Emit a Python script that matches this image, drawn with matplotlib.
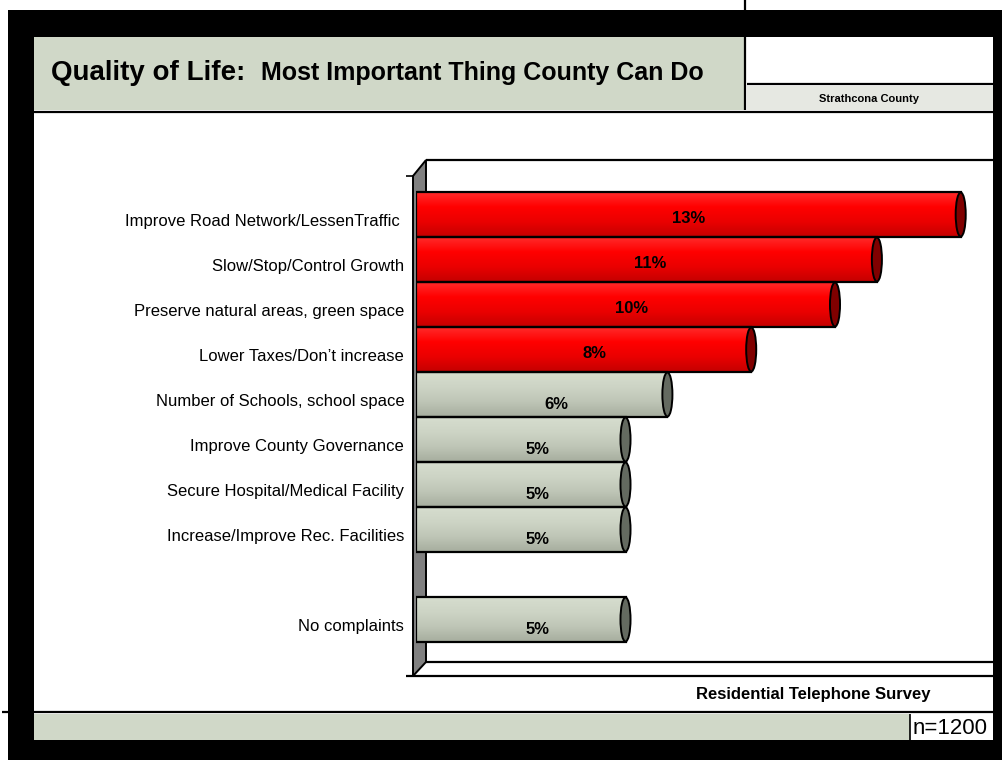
import matplotlib.pyplot as plt
import numpy as np
from matplotlib.patches import Rectangle, Polygon, Ellipse, Arc
from matplotlib.colors import LinearSegmentedColormap

plt.rcParams['font.family'] = ['Liberation Sans', 'DejaVu Sans']

# Survey answers, top to bottom (slot 8 is left empty in the chart)
categories = [
    'Improve Road Network/LessenTraffic ',
    'Slow/Stop/Control Growth',
    'Preserve natural areas, green space',
    'Lower Taxes/Don\u2019t increase',
    'Number of Schools, school space',
    'Improve County Governance',
    'Secure Hospital/Medical Facility',
    'Increase/Improve Rec. Facilities',
    'No complaints',
]
slots = [0, 1, 2, 3, 4, 5, 6, 7, 9]
values = [13, 11, 10, 8, 6, 5, 5, 5, 5]
is_top = [True, True, True, True, False, False, False, False, False]

title_main = 'Quality of Life:'
title_sub = 'Most Important Thing County Can Do'
client = 'Strathcona County'
survey = 'Residential Telephone Survey'
sample = 'n=1200'

W, H = 1003, 762
SAGE = '#d0d8c8'

red_cmap = LinearSegmentedColormap.from_list(
    'redcyl', ['#ff2a2a', '#ff0000', '#ea0000', '#c40000'])
grey_cmap = LinearSegmentedColormap.from_list(
    'greycyl', ['#d6ddce', '#cdd4c5', '#bec5b6', '#a6ad9e'])

fig = plt.figure(figsize=(W / 100, H / 100), dpi=100)

# page decoration in pixel coordinates
bg = fig.add_axes([0, 0, 1, 1])
bg.set_xlim(0, W)
bg.set_ylim(H, 0)
bg.axis('off')


def box(x0, y0, x1, y1, fc, ec='none', lw=0, z=1):
    bg.add_patch(Rectangle((x0, y0), x1 - x0, y1 - y0, facecolor=fc,
                           edgecolor=ec, linewidth=lw, zorder=z))


def line(xs, ys, lw=1.6, z=3):
    bg.plot(xs, ys, color='black', lw=lw, zorder=z, solid_capstyle='butt')


box(8, 10, W, 760, 'black')
box(34, 37, 993, 740, 'white')
box(34, 37, 745, 110, SAGE)
box(747, 86, 993, 110, '#e6e8e2')
line([745, 745], [0, 110])
line([747, 993], [84, 84])
line([34, 993], [112, 112])
box(34, 714, 993, 740, SAGE)
box(910, 714, 993, 740, 'white')
line([910, 910], [714, 740], lw=1.2)
line([2, 993], [712, 712])

bg.text(51, 80, title_main, fontsize=20, fontweight='bold', va='baseline')
bg.text(261, 80, title_sub, fontsize=18, fontweight='bold', va='baseline')
bg.text(869, 99, client, fontsize=8, fontweight='bold', ha='center',
        va='center')
bg.text(931, 695, survey, fontsize=12, fontweight='bold', ha='right',
        va='center')
bg.text(913, 729, sample, fontsize=16, ha='left', va='center')

# 3-D wall and floor
bg.add_patch(Polygon([(413, 176), (426, 160), (426, 662), (413, 676)],
                     closed=True, facecolor='#808080', edgecolor='black',
                     lw=1.4, zorder=2))
line([426, 993], [160, 160])
line([426, 993], [662, 662])
line([406, 993], [676, 676])
line([406, 413], [176, 176], lw=1.2)

# bar chart
pitch_px = 45.0
top_px, bot_px = 160, 662
ax = fig.add_axes([416 / W, (H - bot_px) / H, (993 - 416) / W,
                   (bot_px - top_px) / H])
ax.patch.set_visible(False)
for s in ax.spines.values():
    s.set_visible(False)

bars = ax.barh(slots, values, height=1.0, facecolor='none',
               edgecolor='black', linewidth=1.6, zorder=3)
grad = np.linspace(0, 1, 64).reshape(-1, 1)
for bar, v, top in zip(bars, values, is_top):
    x0, y0 = bar.get_x(), bar.get_y()
    w, h = bar.get_width(), bar.get_height()
    im = ax.imshow(grad, cmap=red_cmap if top else grey_cmap, aspect='auto',
                   extent=(x0, x0 + w, y0 + h, y0), origin='upper',
                   zorder=2, interpolation='bilinear')
    im.set_clip_path(bar)
    ax.add_patch(Ellipse((x0 + w, y0 + h / 2), 0.24, h * 0.98,
                         facecolor='#800000' if top else '#646a60',
                         edgecolor='black', linewidth=1.4, zorder=4))
    ax.add_patch(Arc((x0, y0 + h / 2), 0.16, h * 0.96, theta1=90,
                     theta2=270, color='black', linewidth=1.2, zorder=4))
    ax.text(v * 0.45 + 0.65, y0 + h / 2 + (0.08 if top else 0.22),
            '{}%'.format(v), fontsize=12, fontweight='bold', ha='center',
            va='center', zorder=5)

px_per_unit = 41.9
ax.set_xlim(0, (993 - 416) / px_per_unit)
first_center = 214.5
ax.set_ylim((bot_px - first_center) / pitch_px,
            (top_px - first_center) / pitch_px)
ax.set_xticks([])
ax.set_yticks(np.array(slots) + 0.12)
ax.set_yticklabels(categories, fontsize=12)
ax.tick_params(axis='y', length=0, pad=8.5)

fig.savefig('out.png', dpi=100)
